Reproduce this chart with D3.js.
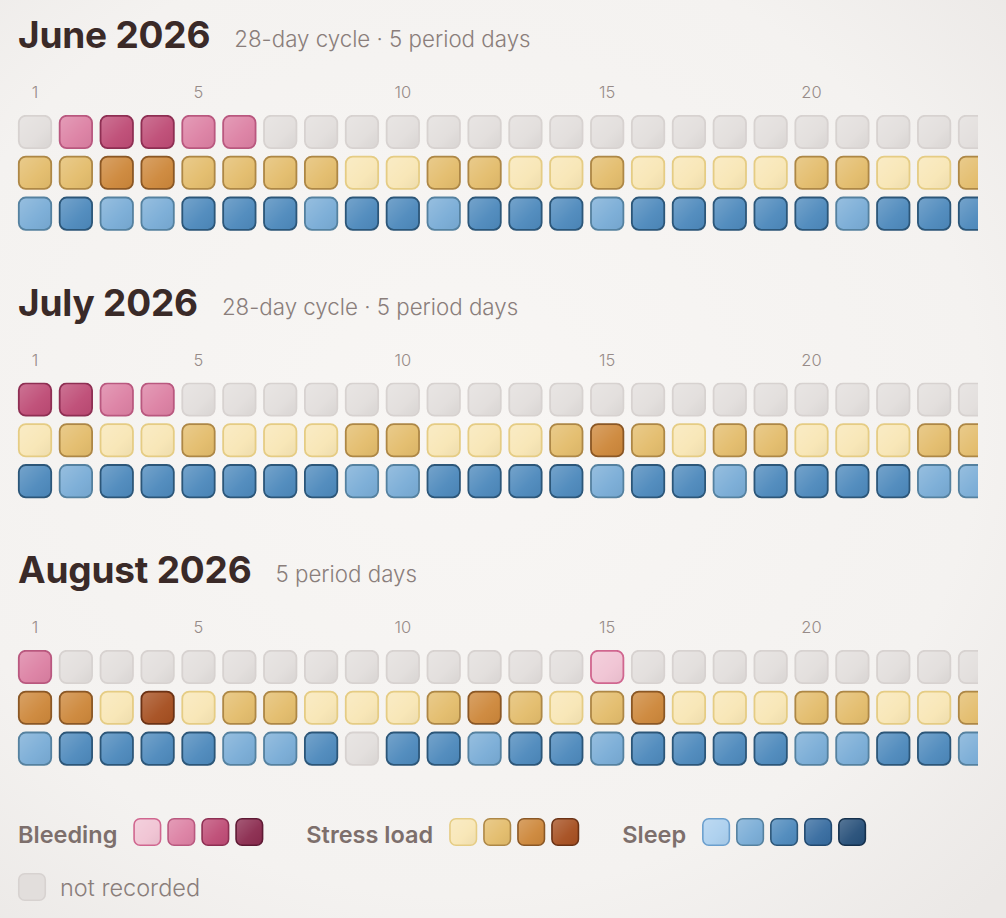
<!DOCTYPE html>
<html>
<head>
<meta charset="utf-8">
<script src="https://cdn.jsdelivr.net/npm/d3@7"></script>
<style>
  html, body { margin: 0; padding: 0; background: #f5f3f1; }
  svg { display: block; font-family: Inter, "Noto Sans", sans-serif; }
</style>
</head>
<body>
<svg id="chart"></svg>
<script>
// ---- data ----
var months = ["June 2026", "July 2026", "August 2026"];
var subtitles = ["28-day cycle · 5 period days", "28-day cycle · 5 period days", "5 period days"];
var tickDays = [1, 5, 10, 15, 20];
var days = d3.range(1, 25);   // visible days (the rest is cut off on the right)
var rows = ["bleeding", "stress", "sleep"];

// null = not recorded
var bleedJune = [null,2,3,3,2,2,null,null,null,null,null,null,null,null,null,null,null,null,null,null,null,null,null,null];
var bleedJuly = [3,3,2,2,null,null,null,null,null,null,null,null,null,null,null,null,null,null,null,null,null,null,null,null];
var bleedAug  = [2,null,null,null,null,null,null,null,null,null,null,null,null,null,1,null,null,null,null,null,null,null,null,null];

var stressJune = [2,2,3,3,2,2,2,2,1,1,2,2,1,1,2,1,1,1,1,2,2,1,1,2];
var stressJuly = [1,2,1,1,2,1,1,1,2,2,1,1,1,2,3,2,1,2,2,1,1,1,2,2];
var stressAug  = [3,3,1,4,1,2,2,1,1,1,2,3,2,1,2,3,1,1,1,2,2,1,1,2];

var sleepJune = [2,3,2,2,3,3,3,2,3,3,2,3,3,3,2,3,3,3,3,3,2,3,3,3];
var sleepJuly = [3,2,3,3,3,3,3,3,2,2,3,3,3,3,2,3,3,2,3,3,3,3,2,2];
var sleepAug  = [2,3,3,3,3,2,2,3,null,3,3,2,3,3,2,3,3,3,3,2,2,3,3,2];

var legendNames = ["Bleeding", "Stress load", "Sleep"];
var bleedLevels = [1, 2, 3, 4];
var stressLevels = [1, 2, 3, 4];
var sleepLevels = [1, 2, 3, 4, 5];

// colour ramps (fill / outline) per level
var bleedFill   = ["#f0c3d3", "#dc80a3", "#be4b75", "#8b2b4f"];
var bleedStroke = ["#d0668f", "#b9587f", "#8e2f53", "#5e1a34"];
var stressFill   = ["#f8e6b5", "#e3bc6b", "#cd873a", "#a64f20"];
var stressStroke = ["#e5cc84", "#ad8746", "#8a5725", "#6b3215"];
var sleepFill   = ["#abcfee", "#79acd6", "#4d89bc", "#366b9f", "#264f79"];
var sleepStroke = ["#6b9fcd", "#55819f", "#2c5678", "#22496f", "#15304c"];
var emptyFill = "#e2dedc", emptyStroke = "#d7d2d0";

var monthData = [
    {bleeding: bleedJune, stress: stressJune, sleep: sleepJune},
    {bleeding: bleedJuly, stress: stressJuly, sleep: sleepJuly},
    {bleeding: bleedAug,  stress: stressAug,  sleep: sleepAug}
];

var ramps = {
    bleeding: {fill: bleedFill, stroke: bleedStroke},
    stress:   {fill: stressFill, stroke: stressStroke},
    sleep:    {fill: sleepFill, stroke: sleepStroke}
};

// ---- layout ----
var screen = {width: 1006, height: 918};
var margins = {left: 18, top: 115};
var blockStep = 267.5;

var svg = d3.select("#chart")
    .attr("width", screen.width)
    .attr("height", screen.height);

var defs = svg.append("defs");

var vignette = defs.append("radialGradient")
    .attr("id", "vignette")
    .attr("cx", "45%").attr("cy", "45%").attr("r", "75%");
vignette.append("stop").attr("offset", "0%").attr("stop-color", "#f8f6f4");
vignette.append("stop").attr("offset", "70%").attr("stop-color", "#f4f2f0");
vignette.append("stop").attr("offset", "100%").attr("stop-color", "#ebe8e6");

var sheen = defs.append("linearGradient")
    .attr("id", "sheen")
    .attr("x1", "0").attr("y1", "0").attr("x2", "1").attr("y2", "1");
sheen.append("stop").attr("offset", "0%").attr("stop-color", "#fff").attr("stop-opacity", 0.22);
sheen.append("stop").attr("offset", "60%").attr("stop-color", "#fff").attr("stop-opacity", 0.04);
sheen.append("stop").attr("offset", "100%").attr("stop-color", "#000").attr("stop-opacity", 0.04);

defs.append("clipPath")
    .attr("id", "gridClip")
    .append("rect")
    .attr("x", 0).attr("y", 0)
    .attr("width", 978).attr("height", screen.height);

svg.append("rect")
    .attr("width", screen.width)
    .attr("height", screen.height)
    .attr("fill", "url(#vignette)");

var xScale = d3.scaleBand()
    .domain(days)
    .range([margins.left, margins.left + 23 * 40.87 + 34])
    .paddingInner(0.168);

var yScale = d3.scaleBand()
    .domain(rows)
    .range([0, 2 * 40.8 + 34])
    .paddingInner(0.171);

var cellColor = function(row, v, key)
{
    if (v === null) { return key == "fill" ? emptyFill : emptyStroke; }
    return ramps[row][key][v - 1];
}

var drawMonth = function(i)
{
    var top = margins.top + i * blockStep;
    var block = svg.append("g")
        .attr("transform", "translate(0," + top + ")");

    block.append("text")
        .text(months[i])
        .attr("x", margins.left)
        .attr("y", -67)
        .attr("font-size", 37)
        .attr("font-weight", 700)
        .attr("letter-spacing", -0.2)
        .attr("fill", "#3a2a28");

    var titleW = block.select("text").node().getComputedTextLength();

    block.append("text")
        .text(subtitles[i])
        .attr("x", margins.left + titleW + 24)
        .attr("y", -68)
        .attr("font-size", 22.3)
        .attr("font-weight", 300)
        .attr("fill", "#8a7e7b");

    block.selectAll(".tick")
        .data(tickDays)
        .enter()
        .append("text")
        .attr("class", "tick")
        .text(function(d) { return d; })
        .attr("x", function(d) { return xScale(d) + xScale.bandwidth() / 2; })
        .attr("y", -17)
        .attr("text-anchor", "middle")
        .attr("font-size", 16.5)
        .attr("font-weight", 300)
        .attr("fill", "#978b88");

    var grid = block.append("g").attr("clip-path", "url(#gridClip)");

    rows.forEach(function(row)
    {
        var cells = grid.selectAll(".c-" + row)
            .data(monthData[i][row].map(function(v, k) { return {day: days[k], v: v}; }))
            .enter()
            .append("g")
            .attr("class", "c-" + row)
            .attr("transform", function(d) { return "translate(" + xScale(d.day) + "," + yScale(row) + ")"; });

        cells.append("rect")
            .attr("x", 0.8).attr("y", 0.8)
            .attr("width", xScale.bandwidth() - 1.6)
            .attr("height", yScale.bandwidth() - 1.6)
            .attr("rx", 7)
            .attr("fill", function(d) { return cellColor(row, d.v, "fill"); })
            .attr("stroke", function(d) { return cellColor(row, d.v, "stroke"); })
            .attr("stroke-width", 1.8);

        cells.append("rect")
            .attr("x", 1.8).attr("y", 1.8)
            .attr("width", xScale.bandwidth() - 3.6)
            .attr("height", yScale.bandwidth() - 3.6)
            .attr("rx", 6)
            .attr("fill", "url(#sheen)");
    });
}

months.forEach(function(m, i) { drawMonth(i); });

// ---- legend ----
var drawLegend = function()
{
    var legend = svg.append("g").attr("transform", "translate(0,818)");
    var groups = [
        {name: legendNames[0], levels: bleedLevels, fill: bleedFill, stroke: bleedStroke},
        {name: legendNames[1], levels: stressLevels, fill: stressFill, stroke: stressStroke},
        {name: legendNames[2], levels: sleepLevels, fill: sleepFill, stroke: sleepStroke}
    ];
    var sw = 28, swStep = 34;
    var x = margins.left;

    groups.forEach(function(g)
    {
        var label = legend.append("text")
            .text(g.name)
            .attr("x", x)
            .attr("y", 25)
            .attr("font-size", 23.5)
            .attr("font-weight", 600)
            .attr("fill", "#7d6f6c");
        x += label.node().getComputedTextLength() + 16;

        var sx = d3.scaleBand().domain(g.levels).range([x, x + g.levels.length * swStep]);

        var sws = legend.selectAll(".sw-" + g.name.replace(" ", ""))
            .data(g.levels)
            .enter()
            .append("g")
            .attr("transform", function(d) { return "translate(" + sx(d) + ",0)"; });
        sws.append("rect")
            .attr("x", 0.75).attr("y", 0.75)
            .attr("width", sw - 1.5).attr("height", sw - 1.5)
            .attr("rx", 6)
            .attr("fill", function(d) { return g.fill[d - 1]; })
            .attr("stroke", function(d) { return g.stroke[d - 1]; })
            .attr("stroke-width", 1.6);
        sws.append("rect")
            .attr("x", 1.6).attr("y", 1.6)
            .attr("width", sw - 3.2).attr("height", sw - 3.2)
            .attr("rx", 5)
            .attr("fill", "url(#sheen)");

        x += g.levels.length * swStep - (swStep - sw) + 43;
    });

    var nr = legend.append("g").attr("transform", "translate(0,55)");
    nr.append("rect")
        .attr("x", margins.left + 0.75).attr("y", 0.75)
        .attr("width", sw - 1.5).attr("height", sw - 1.5)
        .attr("rx", 6)
        .attr("fill", emptyFill)
        .attr("stroke", emptyStroke)
        .attr("stroke-width", 1.6);
    nr.append("text")
        .text("not recorded")
        .attr("x", 60)
        .attr("y", 23)
        .attr("font-size", 23.5)
        .attr("font-weight", 300)
        .attr("fill", "#8a7e7b");
}

drawLegend();
</script>
</body>
</html>
